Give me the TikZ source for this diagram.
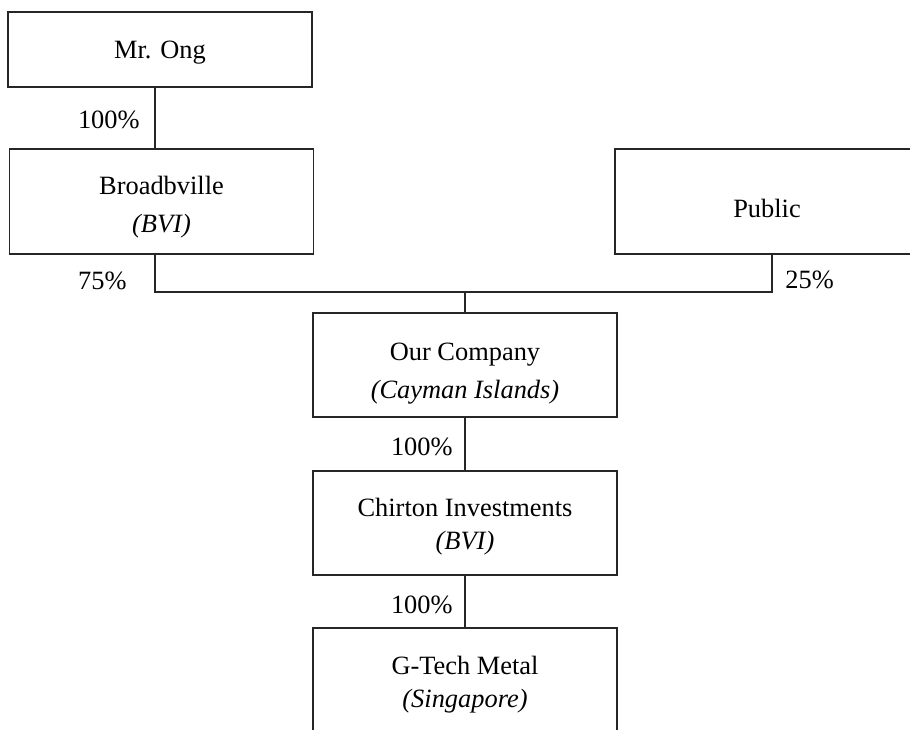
\documentclass[tikz,border=0pt]{standalone}
\usepackage{fontspec}
\setmainfont{Liberation Serif}
\usepackage{tikz}
\usetikzlibrary{positioning}
\newcommand\orgbox[5][]{%
\node[entity, minimum height=#3, #1] (#2) at (#4) {#5};
}
\newcommand\drop[1]{\rule{0pt}{#1}}

\begin{document}
\begin{tikzpicture}[x=0.5pt,y=-0.5pt,
	entity/.style={draw=black!85, line width=0.6pt, rectangle, inner sep=0pt,
		minimum width=152pt, align=center, font=\fontsize{13.2}{19}\selectfont},
	tight/.style={font=\fontsize{13.2}{16.5}\selectfont},
	link/.style={black!85, line width=0.6pt},
	pct/.style={inner sep=0pt, font=\fontsize{13.2}{19}\selectfont}]
	%% canvas
	\useasboundingbox (0,0) rectangle (910,729);
	\clip (0,0) rectangle (910,729);
	
	%% owners
	\orgbox{mrong}{37.5pt}{160,49.5}{\drop{12.1pt}Mr. Ong}
	\orgbox{broad}{52.5pt}{161.5,201.5}{\drop{15.1pt}Broadbville\\\textit{(BVI)}}
	\orgbox{public}{52.5pt}{767,201.5}{\drop{16.1pt}Public}
	
	%% group
	\orgbox{ourco}{52pt}{465,365}{\drop{17.1pt}Our Company\\\textit{(Cayman Islands)}}
	\orgbox[tight]{chirton}{52pt}{465,523}{\drop{12.6pt}Chirton Investments\\\textit{(BVI)}}
	\orgbox[tight]{gtech}{52.5pt}{465,680.5}{\drop{13.6pt}G-Tech Metal\\\textit{(Singapore)}}
	
	\coordinate (bus) at (465,292); % joint of the two holders
	
	% lines
	\draw[link] ([xshift=-2.5pt]mrong.south) -- ([xshift=-3.25pt]broad.north);
	\draw[link] ([xshift=-3.25pt]broad.south) |- (bus) -| ([xshift=2.5pt]public.south);
	\draw[link] (bus) -- (ourco.north);
	\draw[link] (ourco) -- (chirton);
	\draw[link] (chirton) -- (gtech);
	
	% shares
	\node[pct, anchor=east] (pOng) at (140,120) {100\%};
	\node[pct, anchor=east] (pBroad) at (127,281) {75\%};
	\node[pct, anchor=west] (pPublic) at (785,280) {25\%};
	\node[pct, anchor=east] (pOurco) at (453,447) {100\%};
	\node[pct, anchor=east] (pChirton) at (453,605) {100\%};
	
\end{tikzpicture}
\end{document}
